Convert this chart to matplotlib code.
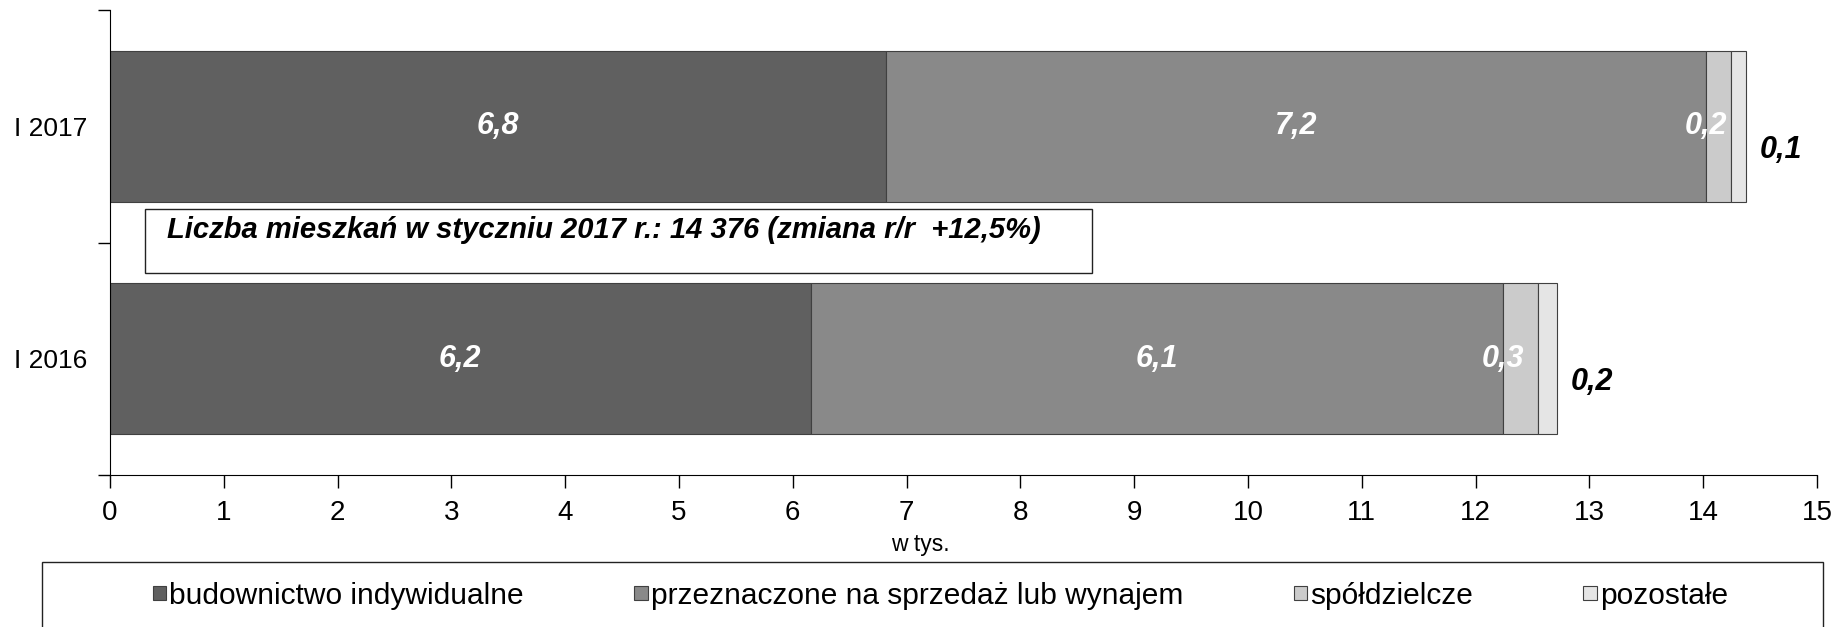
import matplotlib.pyplot as plt
from matplotlib.patches import Rectangle

plt.rcParams['font.family'] = ['Liberation Sans', 'DejaVu Sans']

# Mieszkania oddane do użytkowania w styczniu (w tys.)
periods = ['I 2016', 'I 2017']
series = ['budownictwo indywidualne', 'przeznaczone na sprzedaż lub wynajem',
          'spółdzielcze', 'pozostałe']
values_2016 = [6.156, 6.087, 0.302, 0.173]
values_2017 = [6.815, 7.212, 0.214, 0.135]
labels_2016 = ['6,2', '6,1', '0,3', '0,2']
labels_2017 = ['6,8', '7,2', '0,2', '0,1']
colors = ['#606060', '#898989', '#cbcbcb', '#e5e5e5']
info_text = 'Liczba mieszkań w styczniu 2017 r.: 14 376 (zmiana r/r  +12,5%)'

fig = plt.figure(figsize=(18.39, 6.27), dpi=100)
ax = fig.add_axes([0.0598, 0.2424, 0.9282, 0.7416])

rows = [values_2016, values_2017]
row_labels = [labels_2016, labels_2017]
for i, name in enumerate(series):
    widths = [r[i] for r in rows]
    lefts = [sum(r[:i]) for r in rows]
    ax.barh(range(len(periods)), widths, left=lefts, height=0.65,
            color=colors[i], edgecolor='#404040', linewidth=0.8, label=name)

label_style = dict(fontsize=22, fontweight='bold', fontstyle='italic')
for y, (vals, labs) in enumerate(zip(rows, row_labels)):
    start = 0
    for i, (v, lab) in enumerate(zip(vals, labs)):
        if i < 2:
            ax.text(start + v / 2, y, lab, ha='center', va='center',
                    color='white', **label_style)
        elif i == 2:
            ax.text(start, y, lab, ha='center', va='center',
                    color='white', **label_style)
        else:
            ax.annotate(lab, xy=(start + v, y), xytext=(10, -17),
                        textcoords='offset points', ha='left', va='center',
                        color='black', **label_style)
        start += v

# ramka z komentarzem pomiędzy słupkami
ax.add_patch(Rectangle((0.31, 0.371), 8.32, 0.275, facecolor='white',
                       edgecolor='#222222', linewidth=1, zorder=3))
ax.text(0.5, 0.556, info_text, ha='left', va='center', fontsize=21,
        fontweight='bold', fontstyle='italic', zorder=4)

ax.set_xlim(0, 15)
ax.set_ylim(-0.5, 1.5)
ax.set_xticks(range(0, 16))
ax.tick_params(axis='x', labelsize=20, length=9, width=1, pad=9)
ax.set_yticks([-0.5, 0.5, 1.5])
ax.set_yticklabels([])
ax.set_yticks([0, 1], minor=True)
ax.set_yticklabels(periods, minor=True)
ax.tick_params(axis='y', which='major', length=9, width=1)
ax.tick_params(axis='y', which='minor', length=0, labelsize=19, pad=16.5)
ax.spines['top'].set_visible(False)
ax.spines['right'].set_visible(False)

fig.text(920 / 1839, 1 - 545 / 627, 'w tys.', ha='center', va='center',
         fontsize=16.5)

# legenda w prostokątnej ramce u dołu
fig.patches.append(Rectangle((42 / 1839, -5 / 627), 1781 / 1839, 70 / 627,
                             transform=fig.transFigure, facecolor='none',
                             edgecolor='#222222', linewidth=1))
fig.legend(loc='center', ncol=4, mode='expand', frameon=False,
           bbox_to_anchor=(153 / 1839, 1 - 611 / 627, 1575 / 1839, 30 / 627),
           fontsize=21.5, handlelength=0.45, handleheight=0.33,
           handletextpad=0.1, borderaxespad=0, borderpad=0)

fig.savefig('out.png', dpi=100)
